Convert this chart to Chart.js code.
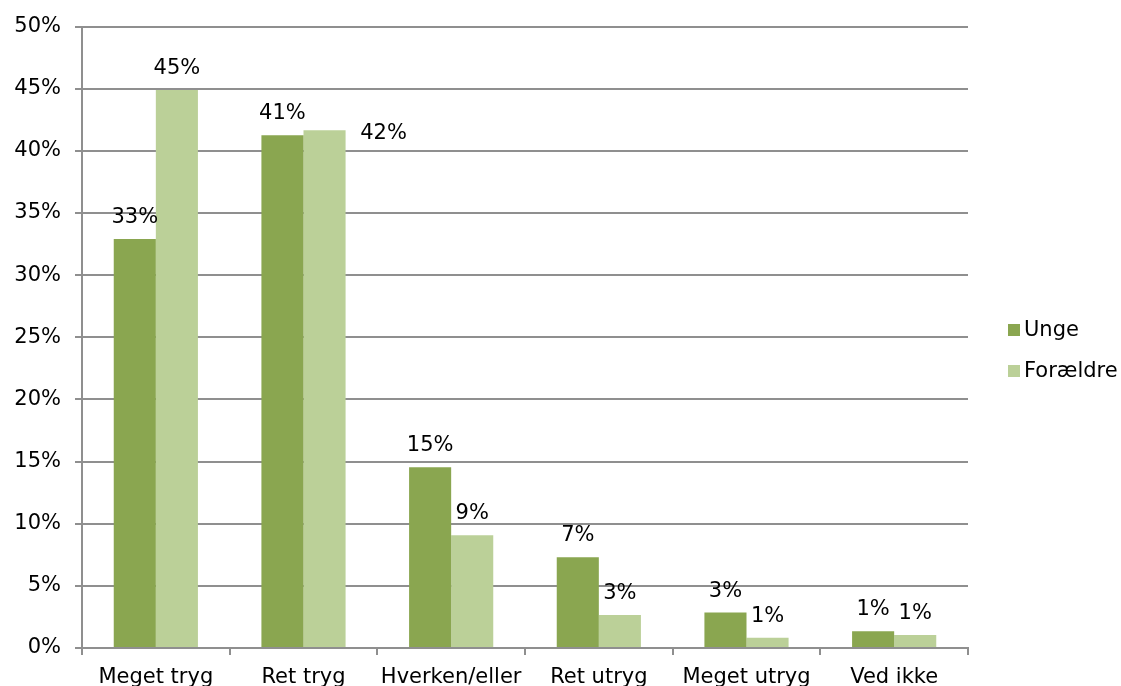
<!DOCTYPE html>
<html>
<head>
<meta charset="utf-8">
<script src="https://cdn.jsdelivr.net/npm/chart.js@4/dist/chart.umd.min.js"></script>
<style>
  html, body { margin: 0; padding: 0; background: #fff; }
  #wrap { width: 1121px; height: 686px; position: relative; }
</style>
</head>
<body>
<div id="wrap"><canvas id="chart"></canvas></div>
<script>
const categories = ['Meget tryg', 'Ret tryg', 'Hverken/eller', 'Ret utryg', 'Meget utryg', 'Ved ikke'];
const unge = [32.9, 41.25, 14.55, 7.3, 2.85, 1.35];
const foraeldre = [44.9, 41.65, 9.07, 2.65, 0.83, 1.04];
const seriesNames = ['Unge', 'Forældre'];
const yTicks = [0, 5, 10, 15, 20, 25, 30, 35, 40, 45, 50];

const FONT = 'DejaVu Sans';
const GRID = '#8f8f8f';

// labels above bars (one of them was moved aside in the original)
const valueLabels = {
  id: 'valueLabels',
  afterDatasetsDraw(chart) {
    const ctx = chart.ctx;
    ctx.save();
    ctx.font = '21px "' + FONT + '"';
    ctx.fillStyle = '#000';
    ctx.textAlign = 'center';
    ctx.textBaseline = 'alphabetic';
    chart.data.datasets.forEach((ds, di) => {
      chart.getDatasetMeta(di).data.forEach((bar, i) => {
        let dx = 0, dy = 0;
        if (di === 1 && i === 1) { dx = 59; dy = 25; }
        ctx.fillText(Math.round(ds.data[i]) + '%', bar.x + dx, bar.y - 16 + dy);
      });
    });
    ctx.restore();
  }
};

// legend at the right side
const sideLegend = {
  id: 'sideLegend',
  afterDraw(chart) {
    const ctx = chart.ctx;
    ctx.save();
    ctx.font = '21px "' + FONT + '"';
    ctx.textBaseline = 'middle';
    chart.data.datasets.forEach((ds, di) => {
      const y = 330 + di * 41;
      ctx.fillStyle = ds.backgroundColor;
      ctx.fillRect(1008, y - 6, 12, 12);
      ctx.fillStyle = '#000';
      ctx.fillText(ds.label, 1024, y + 1);
    });
    ctx.restore();
  }
};

new Chart(document.getElementById('chart'), {
  type: 'bar',
  data: {
    labels: categories,
    datasets: [
      { label: seriesNames[0], data: unge, backgroundColor: '#8aa650', borderWidth: 0 },
      { label: seriesNames[1], data: foraeldre, backgroundColor: '#bbd098', borderWidth: 0 }
    ]
  },
  options: {
    responsive: true,
    maintainAspectRatio: false,
    animation: false,
    layout: { padding: { top: 25, right: 153, left: 0, bottom: 0 } },
    plugins: { legend: { display: false }, tooltip: { enabled: false } },
    datasets: { bar: { barPercentage: 1, categoryPercentage: 0.57 } },
    scales: {
      x: {
        grid: { display: true, drawOnChartArea: false, drawTicks: true, tickLength: 7, color: GRID, lineWidth: 2, offset: true },
        border: { color: GRID, width: 2 },
        ticks: { color: '#000', font: { family: FONT, size: 21 }, padding: 10, maxRotation: 0, autoSkip: false },
        afterFit(scale) { scale.height = 38; }
      },
      y: {
        min: 0,
        max: 50,
        afterBuildTicks(scale) { scale.ticks = yTicks.map(v => ({ value: v })); },
        grid: { color: GRID, lineWidth: 2, tickLength: 7, drawTicks: true },
        border: { color: GRID, width: 2 },
        ticks: { color: '#000', font: { family: FONT, size: 21 }, padding: 14, callback: v => v + '%' },
        afterFit(scale) { scale.width = 82; }
      }
    }
  },
  plugins: [valueLabels, sideLegend]
});
</script>
</body>
</html>
